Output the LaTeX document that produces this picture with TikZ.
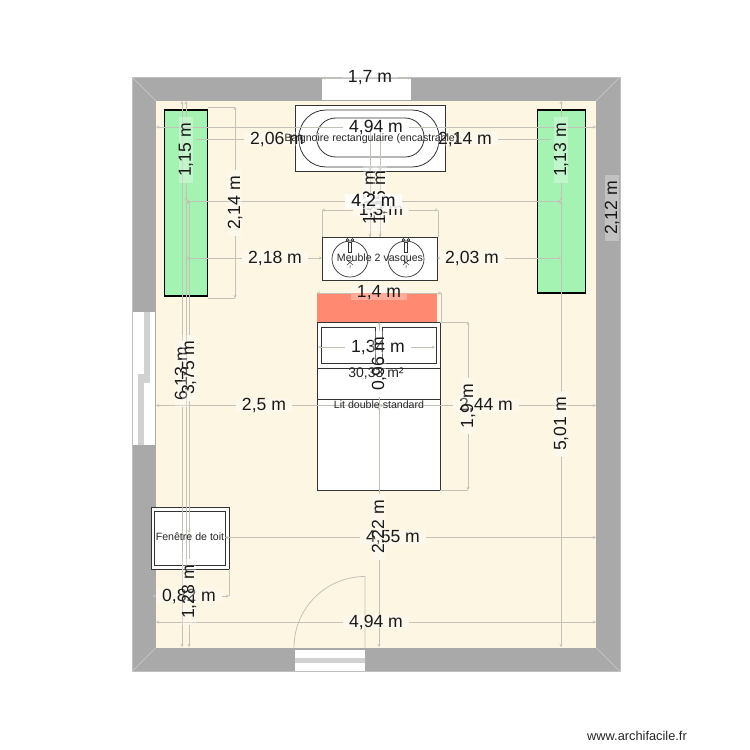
\documentclass[tikz,border=0pt]{standalone}
\usepackage{fontspec}
\setmainfont{Liberation Sans}
\usetikzlibrary{arrows.meta}
\pgfdeclarelayer{lab}
\pgfsetlayers{main,lab}
\definecolor{wallc}{HTML}{A9A9A9}
\definecolor{floorc}{HTML}{FDF6E3}
\definecolor{greenc}{HTML}{A5F3B2}
\definecolor{redc}{HTML}{FF8971}
\definecolor{dimc}{HTML}{C4C2B8}
\definecolor{inkc}{HTML}{333333}
\tikzset{
  dimline/.style={draw=dimc,line width=.9pt,>={Stealth[length=3pt,width=3pt]}},
  lab/.style={fill=white,fill opacity=.3,text opacity=1,inner xsep=6pt,inner ysep=0pt,
    text=black!90,font=\fontsize{17.6}{18}\selectfont},
  veil/.style={fill opacity=.6},
  small/.style={inner sep=0pt,text=black!85,font=\fontsize{10.6}{12}\selectfont},
  furn/.style={draw=inkc,line width=.9pt,fill=white},
  thin/.style={draw=inkc,line width=.8pt},
  glass/.style={fill=black!18,draw=none},
}
% [extra style], name, x1, x2, y, label x, text
\newcommand{\dimH}[7][]{%
  \begin{pgfonlayer}{lab}\node[lab,#1] (#2) at (#6,#5) {#7};\end{pgfonlayer}
  \draw[dimline,<-] (#3,#5) -- (#2.west);
  \draw[dimline,->] (#2.east) -- (#4,#5);
}
% name, x, y1, y2, label y, text
\newcommand{\dimV}[6]{%
  \begin{pgfonlayer}{lab}\node[lab,rotate=90] (#1) at (#2,#5) {#6};\end{pgfonlayer}
  \coordinate (#1p) at (#2,#3);
  \draw[dimline,<-] (#2,#3) -- (#1p |- #1.east);
  \draw[dimline,->] (#1p |- #1.west) -- (#2,#4);
}
\begin{document}
\begin{tikzpicture}[x=1pt,y=-1pt]
\useasboundingbox (0,0) rectangle (750,750);
% walls
\fill[wallc] (132,77) rectangle (620,671.5);
\fill[floorc] (156,101) rectangle (596,647.5);
\draw[black!25,line width=.5pt] (132,77) rectangle (620,671.5);
\draw[black!20,line width=.5pt] (132,77) -- (156,101) (620,77) -- (596,101)
  (132,671.5) -- (156,647.5) (620,671.5) -- (596,647.5);
% top window
\fill[white] (322,79) rectangle (411,100);
% left window
\fill[white] (133,312) rectangle (155,445);
\fill[glass] (144,312) rectangle (150,383);
\fill[glass] (138,374) rectangle (144,445);
% door
\fill[white] (294.5,649.5) rectangle (365,671);
\fill[glass] (294.5,658) rectangle (365,663);
\draw[dimc,line width=.8pt] (294,647.5) arc[start angle=180,end angle=270,radius=71] -- (365,647.5);
% green units
\fill[greenc] (164.5,109) rectangle (207.7,297);
\draw[black,line width=.8pt] (164.5,109) -- (164.5,297) (207.7,109) -- (207.7,297);
\draw[black,line width=2.6pt] (164.5,110) -- (207.7,110) (164.5,295.8) -- (207.7,295.8);
\fill[greenc] (537,109) rectangle (585.7,294);
\draw[black,line width=.8pt] (537,109) -- (537,294) (585.7,109) -- (585.7,294);
\draw[black,line width=2.6pt] (537,110) -- (585.7,110) (537,293) -- (585.7,293);
% bath
\draw[furn] (295,105.7) rectangle (445.3,171);
\draw[thin,rounded corners=27pt] (299,110) rectangle (439,167);
\draw[thin,rounded corners=19pt] (316.7,118) rectangle (424,157);
% basin unit
\draw[furn] (322,237) rectangle (437.7,280);
\foreach \cx in {350,406}{
  \draw[thin,line width=.7pt] (\cx,259) circle (18);
  \draw[thin,line width=.7pt] (\cx-1.5,242) rectangle (\cx+1.5,252);
  \draw[thin,line width=.6pt] (\cx-2.5,240) circle (1.4) (\cx+2.5,240) circle (1.4);
  \draw[thin,line width=.5pt] (\cx-3,260) -- (\cx+3,265) (\cx+3,260) -- (\cx-3,265) (\cx,265) -- (\cx,268);
}
% bed
\fill[redc] (317.3,293) rectangle (437,322);
\draw[furn] (317,322) rectangle (440,490);
\draw[thin] (321,327) rectangle (375,363);
\draw[thin] (382,327) rectangle (436,363);
\draw[thin] (317,368) -- (440,368);
\draw[thin] (317,399) -- (440,399);
% roof window
\draw[furn] (151,507) rectangle (229,569);
\draw[furn] (154,511) rectangle (225,565);
% extension lines
\draw[dimline] (207.7,107) -- (235,107) (207.7,298) -- (235,298);
\draw[dimline] (440,322) -- (468,322) (440,490) -- (468,490);
\draw[dimline] (229,569) -- (229,596);
\draw[dimline] (322,210) -- (322,237) (438,210) -- (438,237);
\draw[dimline] (441.5,293) -- (441.5,322);
\draw[dimline] (186,201) -- (186,569);
\draw[dimline] (370,127) -- (370,237) (380,127) -- (380,237);
% horizontal dimensions
\dimH{dimA}{322}{411}{78}{370}{1,7 m}
\dimH{dimB}{156}{596}{127}{376}{4,94 m}
\begin{pgfonlayer}{lab}
\node[lab] (dimC) at (277,139) {2,06 m};
\node[lab] (dimD) at (465,139) {2,14 m};
\end{pgfonlayer}
\coordinate (dimCend) at (196,139);
\coordinate (dimDend) at (551,139);
\draw[dimline] (dimCend) -- (dimC.west);
\draw[dimline] (dimD.east) -- (dimDend);
\dimH{dimH}{186}{322}{258}{275}{2,18 m}
\dimH{dimI}{437}{561}{258}{472}{2,03 m}
\dimH{dimJ}{317}{441.5}{293}{379}{1,4 m}
\dimH{dimK}{318}{435}{347}{378}{1,34 m}
\dimH{dimL}{156}{379}{405.5}{264}{2,5 m}
\dimH{dimM}{379}{596}{405.5}{486}{2,44 m}
\dimH{dimN}{225}{596}{537.5}{393}{4,55 m}
\dimH{dimO}{156}{229}{596}{189}{0,82 m}
\dimH{dimP}{156}{596}{622}{376}{4,94 m}
% vertical dimensions
\dimV{vdimA}{186}{101}{201}{150}{1,15 m}
\dimV{vdimB}{561}{101}{201}{150}{1,13 m}
\dimV{vdimC}{561}{201}{647}{424}{5,01 m}
\dimV{vdimD}{235}{107}{298}{203}{2,14 m}
\dimV{vdimE}{370}{171}{237}{198}{1,02 m}
\dimV{vdimF}{380}{171}{237}{198}{1,05 m}
\dimV{vdimG}{379}{322}{407}{364}{0,96 m}
\dimV{vdimH}{379}{407}{647}{527}{2,22 m}
\dimV{vdimI}{468}{322}{490}{406}{1,9 m}
\dimV{vdimJ}{182}{101}{647}{374}{6,13 m}
\dimV{vdimK}{189}{201}{533}{368}{3,75 m}
\dimV{vdimL}{189}{533}{647}{592}{1,28 m}
% doubled labels over the centre stack
\dimH{dimG}{322}{438}{210}{381}{1,3 m}
\dimH[veil]{dimE}{186}{561}{201.5}{373.5}{4,2 m}
\dimH[veil]{dimF}{186}{561}{201.5}{373.5}{4,2 m}
\begin{pgfonlayer}{lab}
\node[lab,rotate=90] (vdimM) at (612,208) {2,12 m};
% furniture labels
\node[small] (bathlab) at (371.5,139) {Baignoire rectangulaire (encastrable)};
\node[small] (basinlab) at (380,258.5) {Meuble 2 vasques};
\node[small] (bedlab) at (379,405) {Lit double standard};
\node[small] (rooflab) at (190,537) {Fenêtre de toit};
\node[inner sep=0pt,text=black!85,font=\fontsize{14}{15}\selectfont] (arealab) at (376,374) {30,33 m²};
\node[inner sep=0pt,text=black!85,font=\fontsize{12.8}{14}\selectfont] (credit) at (637,735.5) {www.archifacile.fr};
\end{pgfonlayer}
\end{tikzpicture}
\end{document}
